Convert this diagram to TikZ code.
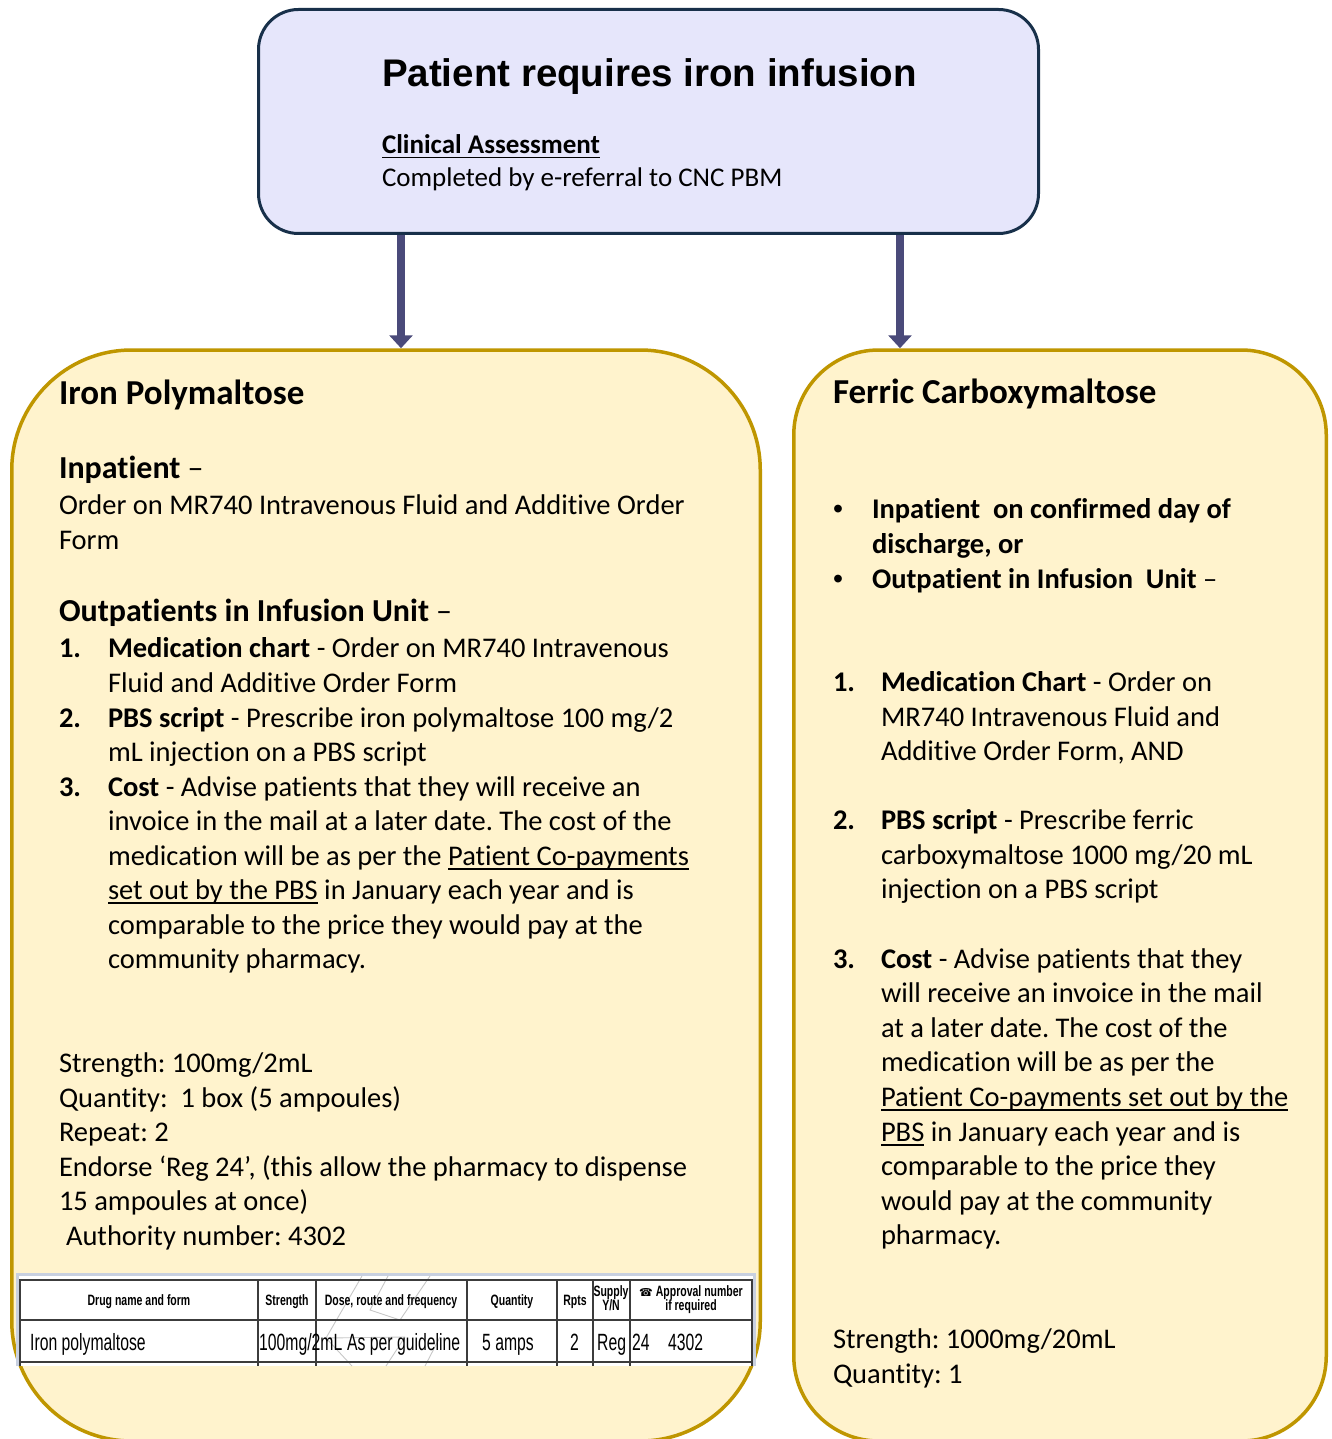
\documentclass[tikz,border=0pt]{standalone}
\usepackage{fontspec}
\setmainfont{Carlito}[Ligatures=NoCommon]
\newfontfamily\arialf{Liberation Sans}
\newfontfamily\tabf[FakeStretch=0.7]{Liberation Sans}
\newfontfamily\tabrf[FakeStretch=0.67]{Liberation Sans}
\newfontfamily\symf{DejaVu Sans}
\usetikzlibrary{arrows.meta}
\definecolor{topfill}{RGB}{230,230,251}
\definecolor{topline}{RGB}{24,48,74}
\definecolor{arrowc}{RGB}{74,74,122}
\definecolor{yfill}{RGB}{255,243,205}
\definecolor{yline}{RGB}{191,150,0}
\definecolor{tframe}{RGB}{200,208,224}
\definecolor{tline}{RGB}{60,60,60}
\frenchspacing
\newsavebox\myulbox
\newcommand\myul[1]{\sbox\myulbox{#1}\rlap{\rule[-4.5pt]{\wd\myulbox}{1.6pt}}\usebox\myulbox}
\newcommand\mybody{\fontsize{28.5}{34}\selectfont}
\newcommand\myhead{\fontsize{35}{40}\selectfont\bfseries}
\newcommand\mysub{\fontsize{32}{36}\selectfont}
\newcommand\mybul{{\arialf •}}
\newcommand\TX[4]{\node[txt] (#1) at (#2,#3) {#4};}
\tikzset{
  txt/.style={anchor=base west, inner sep=0pt, outer sep=0pt, font=\mybody},
  topbox/.style={draw=topline, fill=topfill, line width=3pt, rounded corners=40pt, inner sep=0pt},
  ybox/.style={draw=yline, fill=yfill, line width=3.5pt, inner sep=0pt},
  conn/.style={draw=arrowc, line width=8pt, -{Triangle[width=23pt,length=13pt]}},
  thd/.style={anchor=base, inner sep=0pt, font=\tabf\bfseries\fontsize{15}{14}\selectfont},
  trow/.style={anchor=base west, inner sep=0pt, font=\tabrf\fontsize{23.5}{21}\selectfont},
  tgrid/.style={draw=tline, line width=1.8pt},
  wmark/.style={draw=black!22, line width=0.9pt},
}
\begin{document}
\begin{tikzpicture}[x=1pt,y=-1pt]
\useasboundingbox (0,0) rectangle (1331,1439);
\clip (0,0) rectangle (1331,1439);
\fill[white] (0,0) rectangle (1331,1439);

% boxes
\node[topbox, minimum width=780pt, minimum height=224pt] (top) at (648.5,121.5) {};
\node[ybox, rounded corners=120pt, minimum width=748.5pt, minimum height=1091pt] (lbox) at (386,895.5) {};
\node[ybox, rounded corners=85pt, minimum width=532.5pt, minimum height=1091pt] (rbox) at (1060,895.5) {};

% connectors
\coordinate (la) at (401,0);
\coordinate (ra) at (900,0);
\draw[conn] (top.south -| la) -- (lbox.north -| la);
\draw[conn] (top.south -| ra) -- (rbox.north -| ra);

% top box text
\node[txt, font=\arialf\bfseries\fontsize{38.5}{42}\selectfont] (t1) at (382,87) {Patient requires iron infusion};
\node[txt, font=\fontsize{27}{32}\selectfont\bfseries] (t2) at (382,154) {\myul{Clinical Assessment}};
\node[txt, font=\fontsize{27}{32}\selectfont] (t3) at (382,187) {Completed by e-referral to CNC PBM};

% left box text
\TX{L1}{59}{404}{\myhead Iron Polymaltose}
\TX{L2}{59}{478}{\mysub\textbf{Inpatient} –}
\TX{L3}{59}{514}{Order on MR740 Intravenous Fluid and Additive Order}
\TX{L4}{59}{549}{Form}
\TX{L5}{59}{621}{\mysub\textbf{Outpatients in Infusion Unit} –}
\TX{L6n}{59}{657}{\textbf{1.}}
\TX{L6}{108}{657}{\textbf{Medication chart} - Order on MR740 Intravenous}
\TX{L7}{108}{692}{Fluid and Additive Order Form}
\TX{L8n}{59}{727}{\textbf{2.}}
\TX{L8}{108}{727}{\textbf{PBS script} - Prescribe iron polymaltose 100 mg/2}
\TX{L9}{108}{761}{mL injection on a PBS script}
\TX{L10n}{59}{796}{\textbf{3.}}
\TX{L10}{108}{796}{\textbf{Cost} - Advise patients that they will receive an}
\TX{L11}{108}{830}{invoice in the mail at a later date. The cost of the}
\TX{L12}{108}{865}{medication will be as per the \myul{Patient Co-payments}}
\TX{L13}{108}{899}{\myul{set out by the PBS} in January each year and is}
\TX{L14}{108}{934}{comparable to the price they would pay at the}
\TX{L15}{108}{968}{community pharmacy.}
\TX{L16}{59}{1072}{Strength: 100mg/2mL}
\TX{L17}{59}{1107}{Quantity:\ \ 1 box (5 ampoules)}
\TX{L18}{59}{1141}{Repeat: 2}
\TX{L19}{59}{1176}{Endorse ‘Reg 24’, (this allow the pharmacy to dispense}
\TX{L20}{59}{1210}{15 ampoules at once)}
\TX{L21}{66}{1245}{Authority number: 4302}

% right box text
\TX{R1}{833}{403}{\myhead Ferric Carboxymaltose}
\TX{Rb1}{833}{518}{\mybul}
\TX{R2}{872}{518}{\textbf{Inpatient\ \ on confirmed day of}}
\TX{R3}{872}{553}{\textbf{discharge, or}}
\TX{Rb2}{833}{588}{\mybul}
\TX{R4}{872}{588}{\textbf{Outpatient in Infusion\ \ Unit} –}
\TX{R5n}{833}{691}{\textbf{1.}}
\TX{R5}{881}{691}{\textbf{Medication Chart} - Order on}
\TX{R6}{881}{726}{MR740 Intravenous Fluid and}
\TX{R7}{881}{760}{Additive Order Form, AND}
\TX{R8n}{833}{829}{\textbf{2.}}
\TX{R8}{881}{829}{\textbf{PBS script} - Prescribe ferric}
\TX{R9}{881}{864}{carboxymaltose 1000 mg/20 mL}
\TX{R10}{881}{898}{injection on a PBS script}
\TX{R11n}{833}{968}{\textbf{3.}}
\TX{R11}{881}{968}{\textbf{Cost} - Advise patients that they}
\TX{R12}{881}{1002}{will receive an invoice in the mail}
\TX{R13}{881}{1037}{at a later date. The cost of the}
\TX{R14}{881}{1071}{medication will be as per the}
\TX{R15}{881}{1106}{\myul{Patient Co-payments set out by the}}
\TX{R16}{881}{1141}{\myul{PBS} in January each year and is}
\TX{R17}{881}{1175}{comparable to the price they}
\TX{R18}{881}{1210}{would pay at the community}
\TX{R19}{881}{1244}{pharmacy.}
\TX{R20}{833}{1348}{Strength: 1000mg/20mL}
\TX{R21}{833}{1383}{Quantity: 1}

% prescription table (pasted image)
\fill[white] (17,1274) rectangle (754,1366);
\draw[tframe, line width=3pt] (17,1366) -- (17,1274) -- (754,1274) -- (754,1366);
\draw[wmark] (362,1276) -- (326,1338) -- (352,1366);
\draw[wmark] (388,1276) -- (370,1310) -- (400,1320) -- (430,1276);
\draw[wmark] (405,1337) -- (386,1366);
\draw[wmark] (440,1337) -- (425,1366);
\draw[wmark] (326,1338) -- (405,1337);
\draw[tgrid] (20,1366) -- (20,1280) -- (752,1280) -- (752,1366);
\draw[tgrid] (20,1320) -- (752,1320);
\draw[tgrid] (20,1362) -- (752,1362);
\foreach \cx in {258,316,467,557,593,630} {\draw[tgrid] (\cx,1280) -- (\cx,1366);}
\node[thd] (h1) at (139,1305) {Drug name and form};
\node[thd] (h2) at (287,1305) {Strength};
\node[thd] (h3) at (391,1305) {Dose, route and frequency};
\node[thd] (h4) at (512,1305) {Quantity};
\node[thd] (h5) at (575,1305) {Rpts};
\node[thd] (h6a) at (611,1296) {Supply};
\node[thd] (h6b) at (611,1310) {Y/N};
\node[thd] (h7a) at (691,1296) {{\symf\fontsize{11}{11}\selectfont ☎} Approval number};
\node[thd] (h7b) at (691,1310) {if required};
\node[trow] (c1) at (30,1350) {Iron polymaltose};
\node[trow] (c2) at (259,1350) {100mg/2mL};
\node[trow] (c3) at (347,1350) {As per guideline};
\node[trow] (c4) at (482,1350) {5 amps};
\node[trow] (c5) at (570,1350) {2};
\node[trow] (c6) at (597,1350) {Reg};
\node[trow] (c7) at (632,1350) {24};
\node[trow] (c8) at (668,1350) {4302};
\end{tikzpicture}
\end{document}
